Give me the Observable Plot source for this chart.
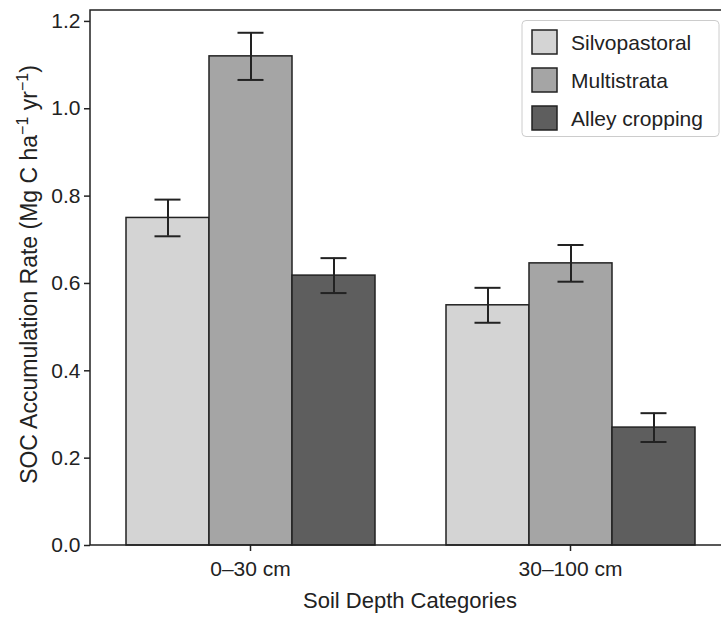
<!DOCTYPE html>
<html><head><meta charset="utf-8">
<script src="https://cdn.jsdelivr.net/npm/d3@7"></script>
<script src="https://cdn.jsdelivr.net/npm/@observablehq/plot@0.6"></script>
<style>body{margin:0;background:#fff;} #chart{width:721px;height:617px;overflow:hidden;}</style>
</head><body><div id="chart"></div>
<script>
const depths = ["0–30 cm", "30–100 cm"];
const systems = ["Silvopastoral", "Multistrata", "Alley cropping"];
const silvopastoral = [0.75, 0.55];
const multistrata = [1.12, 0.646];
const alleyCropping = [0.618, 0.27];
const silvopastoralErr = [0.042, 0.04];
const multistrataErr = [0.054, 0.042];
const alleyCroppingErr = [0.04, 0.033];
const yTicks = [0, 0.2, 0.4, 0.6, 0.8, 1.0, 1.2];
const colors = ["#d4d4d4", "#a5a5a5", "#5e5e5e"];

const series = [silvopastoral, multistrata, alleyCropping];
const errs = [silvopastoralErr, multistrataErr, alleyCroppingErr];
const data = [];
depths.forEach((d, i) => systems.forEach((s, j) =>
  data.push({depth: d, system: s, value: series[j][i], err: errs[j][i]})));

const W = 721, H = 617, mL = 90, mT = 10, mB = 72, mR = 0;
const font = "'Liberation Sans', Arial, Helvetica, sans-serif";
const ink = "#222";

const chart = Plot.plot({
  width: W, height: H,
  marginLeft: mL, marginRight: mR, marginTop: mT, marginBottom: mB,
  style: {fontFamily: font, fontSize: "21px", color: ink, background: "white", overflow: "hidden"},
  fx: {domain: depths, range: [90, 730], padding: 0, label: null},
  x: {domain: systems, paddingInner: 0, paddingOuter: 0.42, axis: null},
  y: {domain: [0, 1.225], label: null},
  color: {domain: systems, range: colors},
  marks: [
    Plot.barY(data, {fx: "depth", x: "system", y: "value", fill: "system", stroke: ink, strokeWidth: 1.5}),
    Plot.ruleX(data, {fx: "depth", x: "system", y1: d => d.value - d.err, y2: d => d.value + d.err, stroke: ink, strokeWidth: 2}),
    Plot.tickY(data, {fx: "depth", x: "system", y: d => d.value + d.err, stroke: ink, strokeWidth: 2, insetLeft: 28.5, insetRight: 28.5}),
    Plot.tickY(data, {fx: "depth", x: "system", y: d => d.value - d.err, stroke: ink, strokeWidth: 2, insetLeft: 28.5, insetRight: 28.5}),
    Plot.axisY({ticks: yTicks, tickFormat: d3.format(".1f"), tickSize: 6, tickPadding: 4, fontSize: 21, label: null, anchor: "left", stroke: ink, strokeWidth: 1.5}),
    Plot.axisFx({anchor: "bottom", tickSize: 6, tickPadding: 10, fontSize: 21, label: null, stroke: ink, strokeWidth: 1.5})
  ]
});

document.getElementById("chart").appendChild(chart);

const svg = d3.select(chart);
const yS = chart.scale("y");
const yTop = Math.min(...yS.range), yBot = Math.max(...yS.range);
const xRight = 730;
// axes frame (left, top, bottom spines)
const frame = svg.append("g").attr("stroke", ink).attr("stroke-width", 1.5).attr("fill", "none");
frame.append("path").attr("d", `M${xRight},${yTop}H${mL}V${yBot}H${xRight}`);

// y label with superscripts
const yl = svg.append("text")
  .attr("transform", `translate(37,${(yTop + yBot) / 2 - 3}) rotate(-90)`)
  .attr("text-anchor", "middle")
  .attr("font-family", font).attr("font-size", 23).attr("fill", ink);
yl.append("tspan").text("SOC Accumulation Rate (Mg C ha");
yl.append("tspan").attr("font-size", 16).attr("dy", -9).text("−1");
yl.append("tspan").attr("dy", 9).text(" yr");
yl.append("tspan").attr("font-size", 16).attr("dy", -9).text("−1");
yl.append("tspan").attr("dy", 9).text(")");

// x label
svg.append("text").attr("x", (mL + xRight) / 2).attr("y", 608)
  .attr("text-anchor", "middle").attr("font-family", font).attr("font-size", 22).attr("fill", ink)
  .text("Soil Depth Categories");

// legend
const lg = svg.append("g").attr("font-family", font).attr("font-size", 21).attr("fill", ink)
  .attr("text-anchor", "start");
lg.append("rect").attr("x", 522).attr("y", 20.5).attr("width", 197).attr("height", 116).attr("rx", 4)
  .attr("fill", "white").attr("fill-opacity", 0.85).attr("stroke", "#cccccc").attr("stroke-width", 1);
systems.forEach((s, i) => {
  const y0 = 30 + i * 38;
  lg.append("rect").attr("x", 532).attr("y", y0).attr("width", 25).attr("height", 24)
    .attr("fill", colors[i]).attr("stroke", ink).attr("stroke-width", 1.5);
  lg.append("text").attr("x", 571).attr("y", y0 + 20).attr("text-anchor", "start").attr("fill", ink).text(s);
});
</script>
</body></html>
